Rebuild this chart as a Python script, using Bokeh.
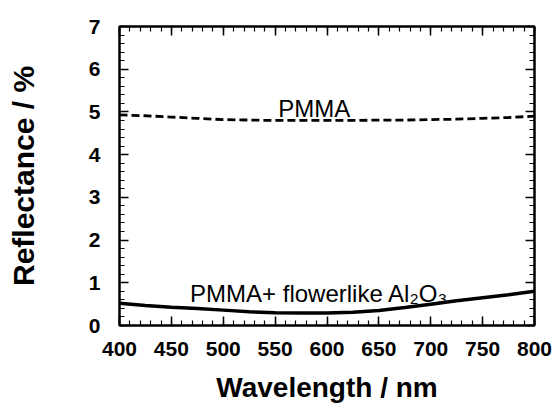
from bokeh.plotting import figure
from bokeh.models import FixedTicker, LinearAxis, Range1d, Label, CustomLabelingPolicy
from bokeh.embed import file_html
from bokeh.resources import INLINE
import numpy as np

# ---- data ----
wavelength = [400, 425, 450, 475, 500, 525, 550, 575, 600, 625, 650, 675, 700, 725, 750, 775, 800]
pmma = [4.93, 4.91, 4.88, 4.85, 4.82, 4.81, 4.80, 4.80, 4.80, 4.80, 4.81, 4.81, 4.82, 4.83, 4.85, 4.87, 4.90]
pmma_al2o3 = [0.52, 0.47, 0.43, 0.40, 0.36, 0.32, 0.30, 0.29, 0.29, 0.31, 0.35, 0.42, 0.50, 0.58, 0.65, 0.72, 0.80]
x_ticks = [400, 450, 500, 550, 600, 650, 700, 750, 800]
y_ticks = [0, 1, 2, 3, 4, 5, 6, 7]
label_pmma = "PMMA"
label_al2o3 = "PMMA+ flowerlike Al\u2082O\u2083"

FONT = "'Liberation Sans', Arial, sans-serif"

p = figure(width=556, height=415, output_backend="svg", toolbar_location=None,
           x_range=Range1d(400, 800), y_range=Range1d(0, 7),
           min_border_left=119, min_border_right=22, min_border_top=26, min_border_bottom=90)
p.background_fill_color = "white"
p.border_fill_color = "white"
p.outline_line_color = "black"
p.outline_line_width = 2
p.grid.visible = False

x_minor = list(np.arange(x_ticks[0], x_ticks[-1] + 1, 10))
y_minor = list(np.round(np.arange(y_ticks[0], y_ticks[-1] + 0.01, 0.2), 2))

hide_all = CustomLabelingPolicy(code="""
    for (const i of indices) { indices.unset(i) }
    return indices
""")

def style(ax, show_labels):
    ax.axis_line_color = "black"
    ax.axis_line_width = 2
    ax.major_tick_in = 9
    ax.major_tick_out = 0
    ax.minor_tick_in = 5
    ax.minor_tick_out = 0
    ax.major_tick_line_width = 1.5
    ax.minor_tick_line_width = 1.2
    ax.major_tick_line_color = "black"
    ax.minor_tick_line_color = "black"
    if show_labels:
        ax.major_label_text_font = FONT
        ax.major_label_text_font_style = "bold"
        ax.major_label_text_font_size = "21px"
        ax.major_label_text_color = "black"
        ax.axis_label_text_font = FONT
        ax.axis_label_text_font_style = "bold"
        ax.axis_label_text_color = "black"
    else:
        ax.major_label_text_font_size = "1px"
        ax.major_label_standoff = 0
        ax.major_label_policy = hide_all

xa = p.xaxis[0]
xa.ticker = FixedTicker(ticks=x_ticks, minor_ticks=x_minor)
xa.axis_label = "Wavelength / nm"
style(xa, True)
xa.axis_label_text_font_size = "28px"
xa.major_label_standoff = 16
xa.axis_label_standoff = 13

ya = p.yaxis[0]
ya.ticker = FixedTicker(ticks=y_ticks, minor_ticks=y_minor)
ya.axis_label = "Reflectance / %"
style(ya, True)
ya.axis_label_text_font_size = "30px"
ya.major_label_standoff = 19
ya.axis_label_standoff = 46

top = LinearAxis(ticker=FixedTicker(ticks=x_ticks, minor_ticks=x_minor))
style(top, False)
p.add_layout(top, "above")
right = LinearAxis(ticker=FixedTicker(ticks=y_ticks, minor_ticks=y_minor))
style(right, False)
p.add_layout(right, "right")

p.line(wavelength, pmma, line_color="black", line_width=2.8, line_dash="8 4")
p.line(wavelength, pmma_al2o3, line_color="black", line_width=3.5)

p.add_layout(Label(x=553, y=5.08, text=label_pmma, text_font=FONT,
                   text_font_size="24px", text_color="black", text_baseline="alphabetic"))
p.add_layout(Label(x=468, y=0.74, text=label_al2o3, text_font=FONT,
                   text_font_size="24px", text_color="black", text_baseline="alphabetic"))

open("out.html", "w").write(file_html(p, INLINE))
